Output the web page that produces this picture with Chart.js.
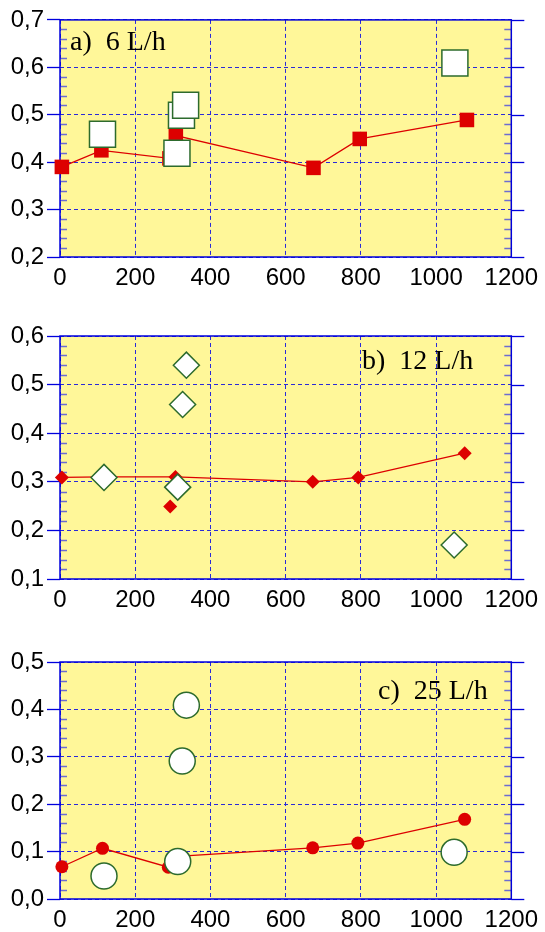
<!DOCTYPE html>
<html>
<head>
<meta charset="utf-8">
<script src="https://cdn.jsdelivr.net/npm/chart.js@4.4.1/dist/chart.umd.min.js"></script>
<style>
  body { margin: 0; background: #fff; }
  #wrap { position: relative; width: 545px; height: 932px; }
  canvas { position: absolute; left: 0; }
</style>
</head>
<body>
<div id="wrap">
  <canvas id="chartA" width="545" height="300" style="top:0px"></canvas>
  <canvas id="chartB" width="545" height="322" style="top:300px"></canvas>
  <canvas id="chartC" width="545" height="310" style="top:622px"></canvas>
</div>
<script>
// x ticks shared by all panels
const xTicks = [0, 200, 400, 600, 800, 1000, 1200];

// a) 6 L/h
const aLineX = [5, 110, 291, 308, 674, 797, 1082];
const aLineY = [0.39, 0.425, 0.408, 0.456, 0.388, 0.449, 0.489];
const aOpenX = [113, 311, 323, 334, 1050];
const aOpenY = [0.459, 0.419, 0.499, 0.52, 0.609];
const aYTicks = [0.2, 0.3, 0.4, 0.5, 0.6, 0.7];

// b) 12 L/h
const bLineX = [5, 115, 307, 672, 793, 1076];
const bLineY = [0.309, 0.31, 0.31, 0.30, 0.309, 0.359];
const bLoneX = [293];
const bLoneY = [0.249];
const bOpenX = [117, 313, 326, 336, 1048];
const bOpenY = [0.309, 0.289, 0.459, 0.54, 0.17];
const bYTicks = [0.1, 0.2, 0.3, 0.4, 0.5, 0.6];

// c) 25 L/h
const cLineX = [5, 113, 288, 312, 672, 792, 1076];
const cLineY = [0.068, 0.107, 0.067, 0.09, 0.108, 0.118, 0.168];
const cOpenX = [117, 313, 325, 336, 1048];
const cOpenY = [0.0485, 0.079, 0.291, 0.409, 0.0985];
const cYTicks = [0.0, 0.1, 0.2, 0.3, 0.4, 0.5];

const RED = '#dd0000';
const GREEN = '#2d6b2d';
const BLUE = '#0000dd';
const GRID = '#2a2ad8';

function pts(xs, ys) {
  return xs.map((x, i) => ({x: x, y: ys[i]}));
}

const framePlugin = {
  id: 'frame',
  beforeDraw(chart) {
    const {ctx, chartArea: a} = chart;
    ctx.save();
    ctx.fillStyle = '#fff799';
    ctx.fillRect(a.left, a.top, a.right - a.left, a.bottom - a.top);
    ctx.restore();
  },
  beforeDatasetsDraw(chart, args, opts) {
    const {ctx, chartArea: a} = chart;
    const y = chart.scales.y;
    ctx.save();
    // minor ticks inside, left and right
    ctx.strokeStyle = '#6c6cd2';
    ctx.lineWidth = 1.5;
    for (let i = 0; i <= 25; i++) {
      if (i % 5 === 0) continue;
      const py = Math.round(y.getPixelForValue(y.min + i * (y.max - y.min) / 25)) + 0.5;
      ctx.beginPath();
      ctx.moveTo(a.left, py); ctx.lineTo(a.left + 7, py);
      ctx.moveTo(a.right - 7, py); ctx.lineTo(a.right, py);
      ctx.stroke();
    }
    // major ticks outside on the right
    ctx.strokeStyle = BLUE;
    ctx.lineWidth = 1.3;
    y.ticks.forEach(t => {
      const py = Math.round(y.getPixelForValue(t.value)) + 0.5;
      ctx.beginPath();
      ctx.moveTo(a.right, py); ctx.lineTo(a.right + 13, py);
      ctx.stroke();
    });
    // frame
    ctx.lineWidth = 1.5;
    ctx.strokeRect(a.left, a.top, a.right - a.left, a.bottom - a.top);
    // panel label
    ctx.fillStyle = '#000';
    ctx.font = '28px "Liberation Serif", "Times New Roman", serif';
    ctx.textBaseline = 'alphabetic';
    ctx.fillText(opts.text, opts.x, opts.y);
    ctx.restore();
  }
};

function makePanel(id, lineX, lineY, openX, openY, yTicks, style, redR, openR, label, top, axisH, lone) {
  const datasets = [
    {
      data: pts(openX, openY),
      showLine: false,
      pointStyle: style,
      pointRadius: openR,
      pointBackgroundColor: '#fff',
      pointBorderColor: GREEN,
      pointBorderWidth: 1.5,
      clip: false
    },
    {
      data: pts(lineX, lineY),
      showLine: true,
      borderColor: RED,
      borderWidth: 1.3,
      pointStyle: style,
      pointRadius: redR,
      pointBackgroundColor: RED,
      pointBorderColor: RED,
      pointBorderWidth: 0,
      clip: false
    }
  ];
  if (lone) {
    datasets.push({
      data: pts(lone[0], lone[1]),
      showLine: false,
      pointStyle: style,
      pointRadius: redR,
      pointBackgroundColor: RED,
      pointBorderWidth: 0,
      clip: false
    });
  }
  return new Chart(document.getElementById(id), {
    type: 'scatter',
    data: {datasets: datasets},
    plugins: [framePlugin],
    options: {
      responsive: false,
      animation: false,
      events: [],
      layout: {padding: {top: top, right: 28, left: 0, bottom: 0}},
      plugins: {
        legend: {display: false},
        tooltip: {enabled: false},
        frame: label
      },
      scales: {
        x: {
          type: 'linear',
          min: xTicks[0],
          max: xTicks[xTicks.length - 1],
          afterBuildTicks: s => { s.ticks = xTicks.map(v => ({value: v})); },
          afterFit: s => { s.height = axisH; },
          ticks: {
            color: '#000',
            padding: 7,
            maxRotation: 0,
            font: {family: '"Liberation Sans", Arial, sans-serif', size: 24},
            callback: v => String(v)
          },
          grid: {color: GRID, lineWidth: 1, drawTicks: false},
          border: {display: false, dash: [4, 3]}
        },
        y: {
          type: 'linear',
          min: yTicks[0],
          max: yTicks[yTicks.length - 1],
          afterBuildTicks: s => { s.ticks = yTicks.map(v => ({value: v})); },
          afterFit: s => { s.width = 60; },
          ticks: {
            color: '#000',
            padding: 3,
            font: {family: '"Liberation Sans", Arial, sans-serif', size: 24},
            callback: v => v.toFixed(1).replace('.', ',')
          },
          grid: {color: GRID, lineWidth: 1, drawTicks: true, tickLength: 13, tickColor: BLUE, tickWidth: 1.3},
          border: {display: false, dash: [4, 3]}
        }
      }
    }
  });
}

makePanel('chartA', aLineX, aLineY, aOpenX, aOpenY, aYTicks, 'rect', 10.3, 18.4,
  {text: 'a)  6 L/h', x: 70, y: 50}, 17, 43, null);
makePanel('chartB', bLineX, bLineY, bOpenX, bOpenY, bYTicks, 'rectRot', 7, 13,
  {text: 'b)  12 L/h', x: 362, y: 69}, 36, 43, [bLoneX, bLoneY]);
makePanel('chartC', cLineX, cLineY, cOpenX, cOpenY, cYTicks, 'circle', 6.5, 13,
  {text: 'c)  25 L/h', x: 378, y: 77}, 40, 33, null);
</script>
</body>
</html>
